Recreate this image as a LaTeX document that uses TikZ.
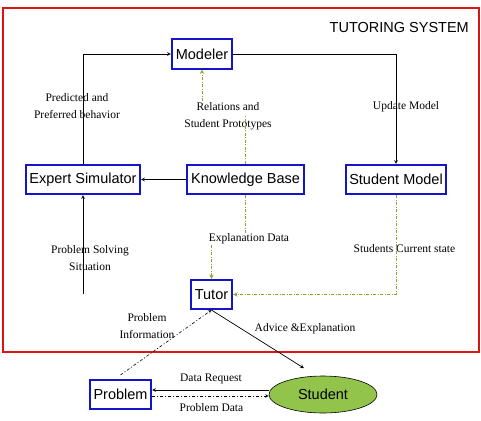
\documentclass[tikz,border=0pt]{standalone}
\usepackage{fontspec}
\usetikzlibrary{shapes.geometric}
\setmainfont{Liberation Serif}
\newfontfamily\boxfont{Liberation Sans}
\definecolor{sysred}{RGB}{220,20,20}
\definecolor{boxblue}{RGB}{20,20,200}
\definecolor{linkolive}{RGB}{150,160,40}
\definecolor{studgreen}{RGB}{146,196,76}
\tikzset{
  module/.style={draw=boxblue,line width=1.6pt,minimum height=29.5pt,inner sep=2pt,
    font=\boxfont\fontsize{14.5}{17}\selectfont},
  lbl/.style={font=\fontsize{11.5}{17}\selectfont,align=center,inner sep=1pt},
  flow/.style={->,line width=0.7pt},
  olivelink/.style={->,draw=linkolive,line width=1pt,dash pattern=on 3pt off 1.5pt on 1pt off 1.5pt},
}
\begin{document}
\begin{tikzpicture}[x=1pt,y=-1pt,>=stealth]
  \useasboundingbox (0,0) rectangle (481,420);

  % tutoring system frame
  \draw[sysred,line width=2pt] (3,8) rectangle (479,352);
  \node[anchor=east,inner sep=0pt,font=\boxfont\fontsize{14.5}{17}\selectfont] (title) at (469,28) {TUTORING SYSTEM};

  % modules
  \node[module,minimum width=60.5pt] (modeler) at (202,54) {Modeler};
  \node[module,minimum width=114.5pt] (expert) at (83,179.5) {Expert Simulator};
  \node[module,minimum width=117.5pt] (kb) at (245.5,179.5) {Knowledge Base};
  \node[module,minimum width=100.5pt] (smodel) at (396,179.5) {Student Model};
  \node[module,minimum width=41.5pt] (tutor) at (211.5,294.5) {Tutor};
  \node[module,minimum width=61.5pt] (problem) at (120.5,394.5) {Problem};
  \node[ellipse,draw,fill=studgreen,line width=0.6pt,minimum width=108pt,minimum height=37pt,
    font=\boxfont\fontsize{14.5}{17}\selectfont] (student) at (323,394.5) {Student};
  \coordinate (pss) at (83,294);

  % labels
  \node[lbl] (predLbl) at (77,106) {Predicted and\\Preferred behavior};
  \node[lbl] (relLbl) at (228,116) {Relations and\\Student Prototypes};
  \node[lbl] (updLbl) at (406,107) {Update Model};
  \node[lbl] (explLbl) at (249,239) {Explanation Data};
  \node[lbl] (pssLbl) at (90,258) {Problem Solving\\Situation};
  \node[lbl] (stateLbl) at (404.5,249) {Students Current state};
  \node[lbl] (infoLbl) at (147,326) {Problem\\Information};
  \node[lbl] (advLbl) at (305,329) {Advice \&Explanation};
  \node[lbl] (reqLbl) at (211,379) {Data Request};
  \node[lbl] (pdataLbl) at (211.5,408) {Problem Data};

  % connectors
  \draw[flow] (expert.north) |- (modeler.west);
  \draw[flow] (modeler.east) -| (smodel.north);
  \draw[flow] (kb.west) -- (expert.east);
  \draw[flow] (pss) -- (expert.south);
  \draw[olivelink,-] (kb.north) -- (kb.north |- relLbl.center);
  \draw[olivelink] (relLbl.north -| modeler.south) -- (modeler.south);
  \draw[olivelink,-] (kb.south) -- (kb.south |- explLbl.north);
  \draw[olivelink] (explLbl.south -| tutor.north) -- (tutor.north);
  \draw[olivelink] (smodel.south) |- (tutor.east);
  \draw[->,line width=0.6pt,dash pattern=on 3pt off 2pt on 1pt off 2pt] ([yshift=4pt]problem.north) -- (tutor.south);
  \draw[flow] (tutor.south) -- ([xshift=-19pt,yshift=7.5pt]student.north);
  \draw[flow] ([yshift=4.5pt]student.west) -- ([yshift=4.5pt]problem.east);
  \draw[->,line width=0.6pt,dash pattern=on 3pt off 2pt on 1pt off 2pt] ([yshift=-1.5pt]problem.east) -- ([yshift=-1.5pt]student.west);

\end{tikzpicture}
\end{document}
